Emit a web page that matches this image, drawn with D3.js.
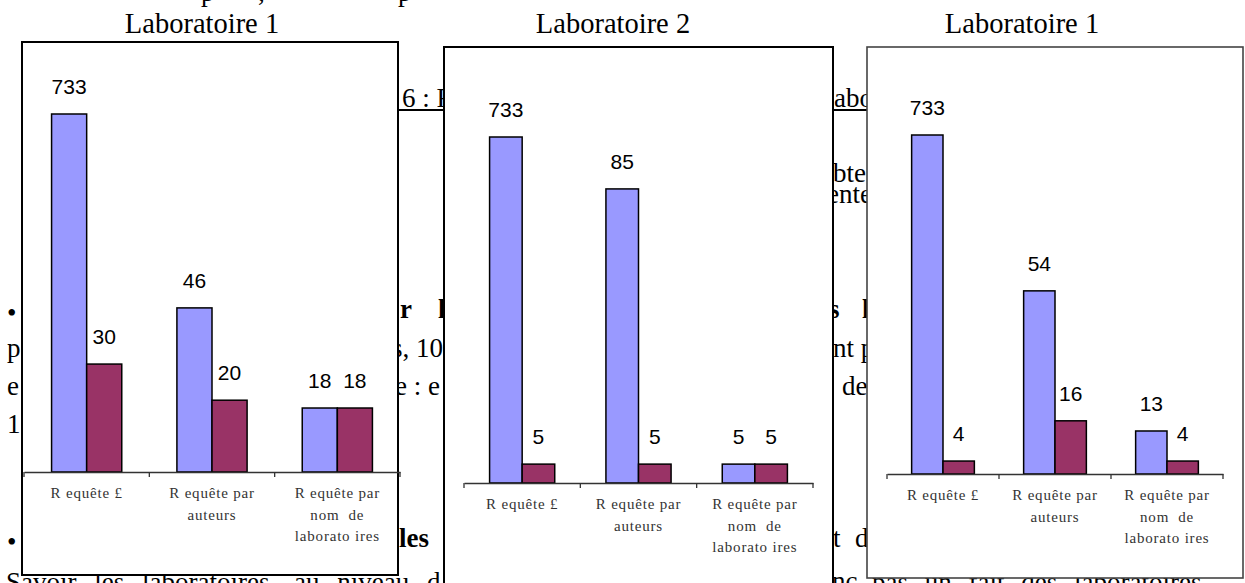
<!DOCTYPE html>
<html>
<head>
<meta charset="utf-8">
<script src="https://cdn.jsdelivr.net/npm/d3@7"></script>
<style>
  html, body { margin: 0; padding: 0; background: #fff; }
  svg { display: block; }
</style>
</head>
<body>
<svg id="chart" width="1245" height="583"></svg>
<script>
// ---------- DATA ----------
const titles = ["Laboratoire 1", "Laboratoire 2", "Laboratoire 1"];
const categories = [
  ["R equête £"],
  ["R equête par", "auteurs"],
  ["R equête par", "nom  de", "laborato ires"]
];
const seriesNames = ["Résultats obtenus", "Résultats pertinents"];
// value labels printed above the bars
const labelsA = [[733, 46, 18], [733, 85, 5], [733, 54, 13]];
const labelsB = [[30, 20, 18], [5, 5, 5], [4, 16, 4]];
// apparent bar heights (the bars are not drawn to the printed values)
const barA = [[733, 336, 131], [733, 623, 40], [733, 396, 93]];
const barB = [[221, 147, 131], [40, 40, 40], [28, 115, 28]];
const yMax = 733;

// ---------- LAYOUT ----------
const panels = [
  { box: [22, 42, 376, 533], stroke: "#000", sw: 2, axis: [24, 400, 472], top: 114, title: [202, 33] },
  { box: [444, 47, 389, 545], stroke: "#000", sw: 2, axis: [464, 813, 483], top: 137, title: [613, 33] },
  { box: [867, 47, 376, 531], stroke: "#444", sw: 1.6, axis: [887, 1223, 474], top: 135, title: [1022, 33] }
];
const colors = ["#9999FF", "#993366"];

const svg = d3.select("#chart");

// ---------- BACKGROUND DOCUMENT TEXT ----------
const bg = svg.append("g").attr("font-family", "'Liberation Serif', 'Times New Roman', serif")
  .attr("font-size", 27).attr("fill", "#000");
const frags = [
  ["p", 201, 1, 400], [",", 258, 1, 400], ["p", 398, 1, 400],
  ["6 : R", 402, 107, 400], ["abo", 834, 107, 400],
  ["bte", 833, 182, 400], ["ente", 827, 203, 400],
  ["•", 7, 322, 400], ["r", 400, 318, 700], ["l", 438, 318, 700], ["s", 829, 318, 700], ["l", 862, 318, 700],
  ["p", 7, 357, 400], ["s, 10", 392, 357, 400], ["nt p", 833, 357, 400],
  ["e", 7, 395, 400], ["e : e", 395, 395, 400], ["de", 842, 395, 400],
  ["1", 7, 433, 400],
  ["•", 7, 551, 400], ["les", 399, 547, 700], ["t", 833, 547, 400], ["d", 855, 547, 400],
  ["nc", 832, 590, 400]
];
frags.forEach(f => {
  bg.append("text").attr("x", f[1]).attr("y", f[2]).attr("font-weight", f[3]).text(f[0]);
});
bg.append("text").attr("x", 6).attr("y", 591).attr("word-spacing", 11)
  .text("Savoir les laboratoires, au niveau d");
bg.append("text").attr("x", 872).attr("y", 591).attr("word-spacing", 10)
  .text("pas un fait des laboratoires");
bg.append("line").attr("x1", 22).attr("x2", 1243).attr("y1", 110).attr("y2", 110)
  .attr("stroke", "#000").attr("stroke-width", 2);

// ---------- PANELS ----------
panels.forEach((p, i) => {
  const g = svg.append("g");
  // title
  g.append("text").attr("x", p.title[0]).attr("y", p.title[1])
    .attr("text-anchor", "middle")
    .attr("font-family", "'Liberation Serif', 'Times New Roman', serif")
    .attr("font-size", 28.5).text(titles[i]);
  // frame
  g.append("rect").attr("x", p.box[0]).attr("y", p.box[1])
    .attr("width", p.box[2]).attr("height", p.box[3])
    .attr("fill", "#fff").attr("stroke", p.stroke).attr("stroke-width", p.sw);

  const x0 = d3.scaleBand().domain(d3.range(categories.length))
    .range([p.axis[0], p.axis[1]]).paddingInner(0).paddingOuter(0);
  const bw = x0.bandwidth() * 0.28;
  const y = d3.scaleLinear().domain([0, yMax]).range([p.axis[2], p.top]);

  const rows = categories.map((c, k) => ({
    k,
    vals: [{ s: 0, h: barA[i][k], lab: labelsA[i][k] }, { s: 1, h: barB[i][k], lab: labelsB[i][k] }]
  }));

  const grp = g.selectAll("g.cat").data(rows).join("g").attr("class", "cat");
  grp.each(function (d) {
    const cx = x0(d.k) + x0.bandwidth() / 2;
    const x1 = d3.scaleBand().domain([0, 1]).range([cx - bw, cx + bw]);
    const sel = d3.select(this);
    sel.selectAll("rect").data(d.vals).join("rect")
      .attr("x", v => x1(v.s)).attr("width", x1.bandwidth())
      .attr("y", v => y(v.h)).attr("height", v => y(0) - y(v.h))
      .attr("fill", v => colors[v.s]).attr("stroke", "#000").attr("stroke-width", 1.5);
    sel.selectAll("text").data(d.vals).join("text")
      .attr("x", v => x1(v.s) + x1.bandwidth() / 2)
      .attr("y", v => y(v.h) - 20)
      .attr("text-anchor", "middle")
      .attr("font-family", "'Liberation Sans', Arial, sans-serif")
      .attr("font-size", 21).attr("fill", "#000")
      .text(v => v.lab);
  });

  // x axis
  const axis = d3.axisBottom(x0).tickSize(0).tickFormat(() => "");
  const ag = g.append("g").attr("transform", `translate(0,${p.axis[2]})`).call(axis);
  ag.select(".domain").attr("stroke", "#333").attr("stroke-width", 1.3);
  ag.selectAll(".tick").remove();
  const bounds = d3.range(categories.length + 1).map(k => k < categories.length ? x0(k) : p.axis[1]);
  ag.selectAll("line.bt").data(bounds).join("line").attr("class", "bt")
    .attr("x1", d => d).attr("x2", d => d).attr("y1", 0).attr("y2", 5)
    .attr("stroke", "#333").attr("stroke-width", 1.3);
  // category labels
  const lab = ag.selectAll("text.cl").data(categories).join("text").attr("class", "cl")
    .attr("text-anchor", "middle")
    .attr("font-family", "'Liberation Serif', 'Times New Roman', serif")
    .attr("font-size", 15).attr("letter-spacing", 0.8).attr("fill", "#333")
    .attr("transform", (d, k) => `translate(${x0(k) + x0.bandwidth() / 2},0)`);
  lab.each(function (d) {
    d3.select(this).selectAll("tspan").data(d).join("tspan")
      .attr("x", 0).attr("y", (t, j) => 26 + j * 21.5).attr("xml:space", "preserve")
      .style("white-space", "pre").text(t => t);
  });
});
</script>
</body>
</html>
